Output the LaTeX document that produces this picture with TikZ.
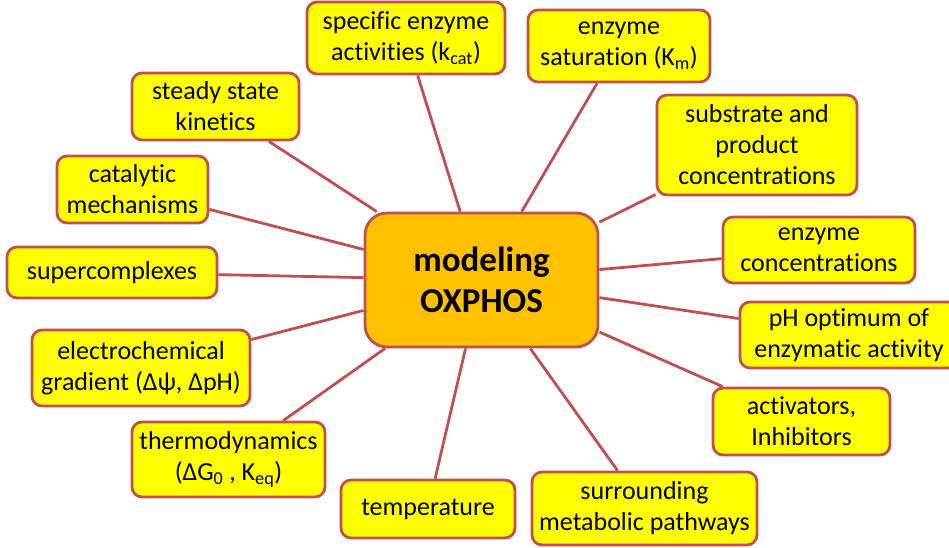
\documentclass[tikz,border=0pt]{standalone}
\usepackage{fontspec}
\setmainfont[Ligatures=NoCommon]{Carlito}
\definecolor{boxred}{HTML}{C0504D}
\definecolor{hubfill}{HTML}{FFC000}
\definecolor{leaffill}{HTML}{FFFF00}
\begin{document}
\begin{tikzpicture}[x=1pt, y=-1pt,
	every node/.style={text centered, align=center, inner sep=0pt},
	leaf/.style={draw=boxred, line width=2.8pt, fill=leaffill, rounded corners=10pt,
		font=\fontsize{26}{31}\selectfont},
	hub/.style={draw=boxred, line width=2.8pt, fill=hubfill, rounded corners=22pt,
		font=\fontsize{35}{41}\selectfont\bfseries},
	link/.style={draw=boxred, line width=2.8pt}]
	\useasboundingbox (0,0) rectangle (949,548);

		\draw (481.5, 280)	node[hub, minimum width=233, minimum height=134] (oxphos)
				{modeling\\OXPHOS}

			(406, 38)		node[leaf, minimum width=198, minimum height=72] (kcat)
				{specific enzyme\\activities (k\textsubscript{cat})}

			(619, 46)		node[leaf, minimum width=182, minimum height=72] (km)
				{enzyme\\saturation (K\textsubscript{m})}

			(757, 145)		node[leaf, minimum width=200, minimum height=100] (substrate)
				{substrate and\\product\\concentrations}

			(819, 250)		node[leaf, minimum width=192, minimum height=66] (enzconc)
				{enzyme\\concentrations}

			(849, 335)		node[leaf, minimum width=218, minimum height=66] (phopt)
				{pH optimum of\\enzymatic activity}

			(801.5, 421.5)	node[leaf, minimum width=177, minimum height=67] (activators)
				{activators,\\Inhibitors}

			(644.5, 508.5)	node[leaf, minimum width=225, minimum height=73] (pathways)
				{surrounding\\metabolic pathways}

			(428, 509)		node[leaf, minimum width=174, minimum height=58] (temperature)
				{temperature}

%			left hand side
			(228.5, 459.5)	node[leaf, minimum width=193, minimum height=75] (thermo)
				{thermodynamics\\(ΔG\textsubscript{0} , K\textsubscript{eq})}

			(141, 368)		node[leaf, minimum width=218, minimum height=76] (gradient)
				{electrochemical\\gradient (Δψ, ΔpH)}

			(112, 272.5)	node[leaf, minimum width=210, minimum height=51] (supercomplexes)
				{supercomplexes}

			(132.5, 189.5)	node[leaf, minimum width=151, minimum height=67] (mechanisms)
				{catalytic\\mechanisms}

			(215.5, 106.5)	node[leaf, minimum width=167, minimum height=67] (steadystate)
				{steady state\\kinetics}
;

	\draw[link] (oxphos) -- (kcat);
	\draw[link] (oxphos) -- (km);
	\draw[link] (oxphos) -- (substrate);
	\draw[link] (oxphos) -- (enzconc);
	\draw[link] (oxphos) -- (phopt);
	\draw[link] (oxphos) -- (activators);
	\draw[link] (oxphos) -- (pathways);
	\draw[link] (oxphos) -- (temperature);
	\draw[link] (oxphos) -- (thermo);
	\draw[link] (oxphos) -- (gradient);
	\draw[link] (oxphos) -- (supercomplexes);
	\draw[link] (oxphos) -- (mechanisms);
	\draw[link] (oxphos) -- (steadystate);
\end{tikzpicture}
\end{document}
